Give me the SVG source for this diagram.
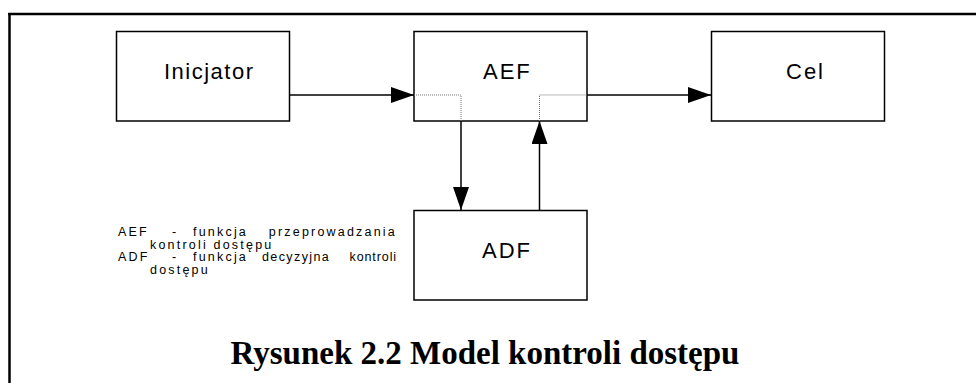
<svg xmlns="http://www.w3.org/2000/svg" width="976" height="383" viewBox="0 0 976 383">
<style>
.box{fill:#fff;stroke:#000;stroke-width:1.5}
.lbl{font-family:"Liberation Sans",Arial,sans-serif;font-size:22px;letter-spacing:2px;fill:#000}
.leg{font-family:"Liberation Sans",Arial,sans-serif;font-size:12.5px;letter-spacing:2.2px;fill:#000}
.cap{font-family:"Liberation Serif","Times New Roman",serif;font-size:33px;font-weight:bold;fill:#000}
.con{fill:none;stroke:#000;stroke-width:1.5}
.dot{fill:none;stroke:#777;stroke-width:1;stroke-dasharray:1,1}
</style>
<defs>
<marker id="ah" markerUnits="userSpaceOnUse" markerWidth="24" markerHeight="16" refX="23" refY="8" orient="auto">
<path d="M0,0 L23,8 L0,16 Z" fill="#000"/>
</marker>
</defs>
<rect width="976" height="383" fill="#fff"/>
<g id="frame">
<line x1="8" y1="14" x2="976" y2="14" stroke="#000" stroke-width="2.5"/>
<line x1="9.5" y1="13" x2="9.5" y2="383" stroke="#000" stroke-width="2.5"/>
</g>
<g id="inicjator">
<rect class="box" x="116.5" y="31.5" width="173" height="89.5"/>
<text class="lbl" x="164" y="79" style="letter-spacing:1.5px">Inicjator</text>
</g>
<g id="aef">
<rect class="box" x="414" y="31.5" width="173" height="89.5"/>
<text class="lbl" x="483" y="79">AEF</text>
</g>
<g id="cel">
<rect class="box" x="711.5" y="31.5" width="173" height="89.5"/>
<text class="lbl" x="786" y="79">Cel</text>
</g>
<g id="adf">
<rect class="box" x="414" y="210.5" width="173" height="89.5"/>
<text class="lbl" x="482" y="258">ADF</text>
</g>
<g id="connectors">
<line class="con" x1="289" y1="95" x2="414" y2="95" marker-end="url(#ah)"/>
<polyline class="dot" points="414,95 461,95 461,121"/>
<line class="con" x1="461" y1="121" x2="461" y2="210" marker-end="url(#ah)"/>
<line class="con" x1="539.5" y1="210" x2="539.5" y2="121" marker-end="url(#ah)"/>
<polyline class="dot" points="539.5,121 539.5,95 587,95"/>
<line class="con" x1="587" y1="95" x2="711" y2="95" marker-end="url(#ah)"/>
</g>
<g id="legend">
<text class="leg" x="118" y="236">AEF</text>
<text class="leg" x="172" y="236">-</text>
<text class="leg" x="193" y="236">funkcja</text>
<text class="leg" x="397" y="236" text-anchor="end">przeprowadzania</text>
<text class="leg" x="150" y="248.5">kontroli dostępu</text>
<text class="leg" x="118" y="261">ADF</text>
<text class="leg" x="172" y="261">-</text>
<text class="leg" x="193" y="261">funkcja</text>
<text class="leg" x="262" y="261" style="letter-spacing:1.4px">decyzyjna</text>
<text class="leg" x="397" y="261" text-anchor="end" style="letter-spacing:0.9px">kontroli</text>
<text class="leg" x="150" y="273.5">dostępu</text>
</g>
<g id="caption">
<text class="cap" x="485" y="364" text-anchor="middle">Rysunek 2.2 Model kontroli dostępu</text>
</g>
</svg>
